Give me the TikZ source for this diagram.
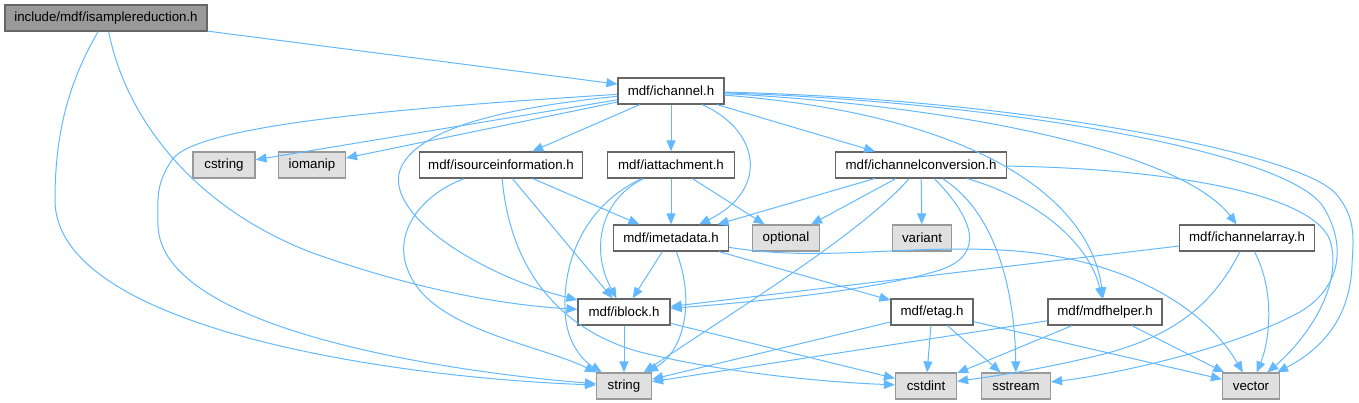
\documentclass[tikz,border=0pt]{standalone}
\usepackage{fontspec}
\setmainfont{Liberation Sans}
\usepackage{xcolor}
\usepackage{tikz}
\usetikzlibrary{arrows.meta}
\definecolor{edgeblue}{RGB}{99,184,255}
\definecolor{boxline}{RGB}{102,102,102}
\definecolor{sysline}{RGB}{153,153,153}
\definecolor{sysfill}{RGB}{224,224,224}
\definecolor{rootfill}{RGB}{153,153,153}

\begin{document}
\begin{tikzpicture}[x=1pt, y=-1pt,
      hfile/.style={rectangle, draw=boxline, fill=white, line width=1.2pt, minimum height=26pt, inner sep=0pt, font=\fontsize{13.3}{16}\selectfont},
      sysh/.style={hfile, draw=sysline, fill=sysfill},
      mainh/.style={hfile, fill=rootfill},
      dep/.style={-{Triangle[length=11pt, width=9pt]}, line width=1pt, color=edgeblue}
    ]
      \useasboundingbox (0,0) rectangle (1359,403);
      \node[mainh, minimum width=202pt] (root) at (106,18) {include/mdf/isamplereduction.h};
      \node[hfile, minimum width=106pt] (ichannel) at (671,91) {mdf/ichannel.h};
      \node[sysh, minimum width=62pt] (cstring) at (224,165) {cstring};
      \node[sysh, minimum width=67pt] (iomanip) at (312,165) {iomanip};
      \node[hfile, minimum width=163pt] (isrc) at (501,165) {mdf/isourceinformation.h};
      \node[hfile, minimum width=127pt] (iattach) at (671,165) {mdf/iattachment.h};
      \node[hfile, minimum width=171pt] (iconv) at (921,165) {mdf/ichannelconversion.h};
      \node[hfile, minimum width=115pt] (imeta) at (671,238) {mdf/imetadata.h};
      \node[sysh, minimum width=67pt] (optional) at (786,238) {optional};
      \node[sysh, minimum width=59pt] (variant) at (922,238) {variant};
      \node[hfile, minimum width=135pt] (ichanarr) at (1247,238) {mdf/ichannelarray.h};
      \node[hfile, minimum width=92pt] (iblock) at (624,312) {mdf/iblock.h};
      \node[hfile, minimum width=82pt] (etag) at (932,312) {mdf/etag.h};
      \node[hfile, minimum width=114pt] (mdfhelper) at (1105,312) {mdf/mdfhelper.h};
      \node[sysh, minimum width=55pt] (string) at (624,386) {string};
      \node[sysh, minimum width=61pt] (cstdint) at (926,386) {cstdint};
      \node[sysh, minimum width=69pt] (sstream) at (1016,386) {sstream};
      \node[sysh, minimum width=57pt] (vector) at (1251,386) {vector};

      \draw[dep] (root) -- (ichannel);
      \draw[dep] (root) .. controls (70,80) and (55,130) .. (55,200) .. controls (55,330) and (400,378) .. (string);
      \draw[dep] (root) .. controls (125,115) and (190,205) .. (310,252) .. controls (430,295) and (520,306) .. (iblock);

      \draw[dep] (ichannel) -- (cstring);
      \draw[dep] (ichannel) -- (iomanip);
      \draw[dep] (ichannel) -- (isrc);
      \draw[dep] (ichannel) -- (iattach);
      \draw[dep] (ichannel) -- (iconv);
      \draw[dep] (ichannel) .. controls (400,108) and (195,125) .. (172,160) .. controls (155,185) and (158,200) .. (158,225) .. controls (160,330) and (450,372) .. (string);
      \draw[dep] (ichannel) .. controls (500,108) and (415,130) .. (400,170) .. controls (385,215) and (480,275) .. (iblock);
      \draw[dep] (ichannel) .. controls (760,130) and (770,190) .. (imeta);
      \draw[dep] (ichannel) .. controls (950,105) and (1180,150) .. (ichanarr);
      \draw[dep] (ichannel) .. controls (980,115) and (1090,200) .. (mdfhelper);
      \draw[dep] (ichannel) .. controls (1000,98) and (1300,150) .. (1337,195) .. controls (1357,220) and (1353,240) .. (1352,265) .. controls (1350,320) and (1320,350) .. (vector);
      \draw[dep] (ichannel) .. controls (1000,102) and (1280,150) .. (1322,205) .. controls (1345,240) and (1345,285) .. (1300,312) .. controls (1230,350) and (1110,375) .. (sstream);

      \draw[dep] (isrc) -- (imeta);
      \draw[dep] (isrc) -- (iblock);
      \draw[dep] (isrc) .. controls (420,195) and (390,235) .. (410,275) .. controls (435,330) and (540,345) .. (string);
      \draw[dep] (isrc) .. controls (510,270) and (560,330) .. (640,352) .. controls (720,372) and (820,382) .. (cstdint);

      \draw[dep] (iattach) -- (imeta);
      \draw[dep] (iattach) -- (optional);
      \draw[dep] (iattach) .. controls (600,200) and (590,250) .. (iblock);
      \draw[dep] (iattach) .. controls (585,205) and (563,260) .. (565,310) .. controls (566,345) and (585,362) .. (string);

      \draw[dep] (iconv) -- (imeta);
      \draw[dep] (iconv) -- (optional);
      \draw[dep] (iconv) -- (variant);
      \draw[dep] (iconv) .. controls (975,220) and (985,255) .. (940,270) .. controls (870,292) and (740,303) .. (iblock);
      \draw[dep] (iconv) .. controls (860,235) and (720,320) .. (string);
      \draw[dep] (iconv) .. controls (1000,215) and (1015,300) .. (sstream);
      \draw[dep] (iconv) .. controls (1040,200) and (1090,245) .. (mdfhelper);
      \draw[dep] (iconv) .. controls (1150,168) and (1310,190) .. (1330,240) .. controls (1345,290) and (1300,345) .. (vector);

      \draw[dep] (ichanarr) -- (iblock);
      \draw[dep] (ichanarr) .. controls (1215,300) and (1180,335) .. (1100,355) .. controls (1030,372) and (980,378) .. (cstdint);
      \draw[dep] (ichanarr) .. controls (1275,290) and (1270,340) .. (vector);

      \draw[dep] (imeta) -- (iblock);
      \draw[dep] (imeta) -- (etag);
      \draw[dep] (imeta) .. controls (695,300) and (685,350) .. (string);
      \draw[dep] (imeta) .. controls (820,262) and (900,245) .. (1000,250) .. controls (1110,255) and (1200,300) .. (vector);

      \draw[dep] (iblock) -- (string);
      \draw[dep] (iblock) -- (cstdint);

      \draw[dep] (etag) -- (string);
      \draw[dep] (etag) -- (cstdint);
      \draw[dep] (etag) -- (sstream);
      \draw[dep] (etag) -- (vector);

      \draw[dep] (mdfhelper) -- (string);
      \draw[dep] (mdfhelper) -- (cstdint);
      \draw[dep] (mdfhelper) -- (vector);
    \end{tikzpicture}
\end{document}
